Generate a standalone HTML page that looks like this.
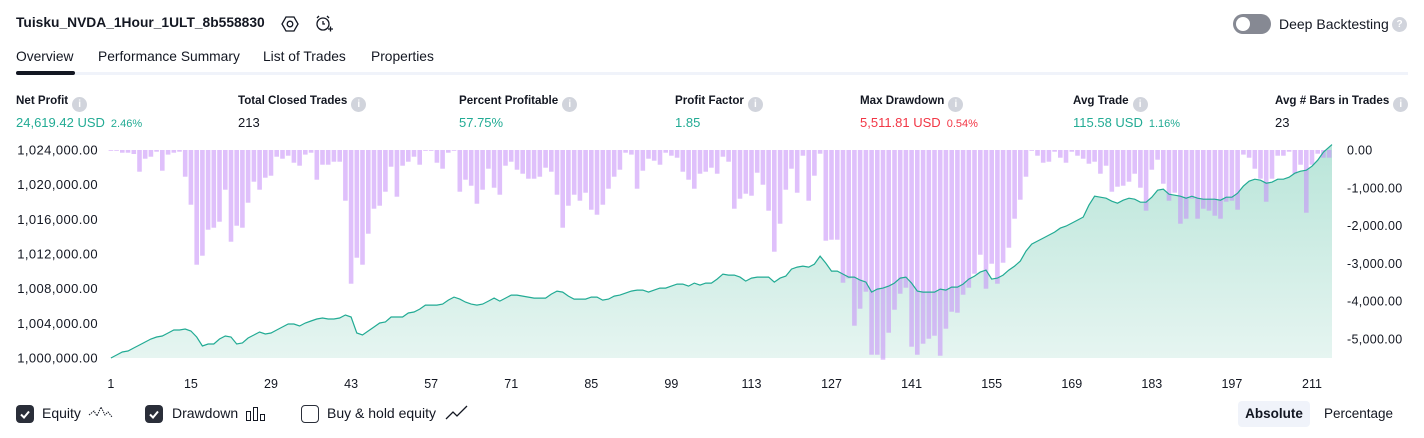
<!DOCTYPE html>
<html><head><meta charset="utf-8"><style>
*{margin:0;padding:0;box-sizing:border-box}
body{width:1424px;height:438px;background:#fff;font-family:"Liberation Sans",sans-serif;color:#131722;position:relative;overflow:hidden}
.a{position:absolute;white-space:nowrap}
.lbl{font-size:11.6px;font-weight:bold;color:#131722}
.val{font-size:13px}
.g{color:#22ab94}.r{color:#f23645}
.pct{font-size:11px;margin-left:6px}
.info{display:inline-block;width:15px;height:15px;border-radius:50%;background:#d1d4dc;color:#fff;font-size:10px;text-align:center;line-height:15px;vertical-align:-3px;margin-left:4px;font-weight:bold}
.tab{font-size:13.8px;top:49px;color:#131722}
.cb{width:18px;height:18px;border-radius:4px;top:405px}
.leg{font-size:14px;top:405px}
</style></head><body>
<div class="a" style="left:16px;top:15px;font-size:13.8px;font-weight:bold">Tuisku_NVDA_1Hour_1ULT_8b558830</div>
<svg class="a" style="left:281px;top:15px" width="18" height="18" viewBox="0 0 18 18"><polygon points="5,2 13,2 17,9 13,16 5,16 1,9" fill="none" stroke="#131722" stroke-width="1.3"/><circle cx="9" cy="9" r="2.8" fill="none" stroke="#131722" stroke-width="1.3"/></svg>
<svg class="a" style="left:314px;top:14px" width="20" height="20" viewBox="0 0 20 20"><circle cx="9" cy="10" r="6" fill="none" stroke="#131722" stroke-width="1.3"/><path d="M9 7v3h2M3 4l2-2M15 4l-2-2M14 15h5M16.5 12.5v5" stroke="#131722" stroke-width="1.3" fill="none"/></svg>
<div class="a" style="left:1233px;top:14px;width:38px;height:20px;border-radius:10px;background:#868993"><div style="position:absolute;left:3px;top:3px;width:14px;height:14px;border-radius:50%;background:#fff"></div></div>
<div class="a" style="left:1279px;top:16px;font-size:14px">Deep Backtesting</div>
<div class="a" style="left:1392px;top:17px;width:15px;height:15px;border-radius:50%;background:#d1d4dc;color:#fff;font-size:10px;text-align:center;line-height:15px;font-weight:bold">?</div>
<div class="a tab" style="left:16px">Overview</div>
<div class="a tab" style="left:98px">Performance Summary</div>
<div class="a tab" style="left:263px">List of Trades</div>
<div class="a tab" style="left:371px">Properties</div>
<div class="a" style="left:16px;top:72px;width:1392px;height:3px;background:#f0f3fa"></div>
<div class="a" style="left:16px;top:71px;width:59px;height:4px;border-radius:2px;background:#131722"></div>

<div class="a" style="left:16px;top:94px"><div class="lbl">Net Profit<span class="info">i</span></div><div class="val g" style="margin-top:3px">24,619.42 USD<span class="pct">2.46%</span></div></div>
<div class="a" style="left:238px;top:94px"><div class="lbl">Total Closed Trades<span class="info">i</span></div><div class="val" style="margin-top:3px">213</div></div>
<div class="a" style="left:459px;top:94px"><div class="lbl">Percent Profitable<span class="info">i</span></div><div class="val g" style="margin-top:3px">57.75%</div></div>
<div class="a" style="left:675px;top:94px"><div class="lbl">Profit Factor<span class="info">i</span></div><div class="val g" style="margin-top:3px">1.85</div></div>
<div class="a" style="left:860px;top:94px"><div class="lbl">Max Drawdown<span class="info">i</span></div><div class="val r" style="margin-top:3px">5,511.81 USD<span class="pct">0.54%</span></div></div>
<div class="a" style="left:1073px;top:94px"><div class="lbl">Avg Trade<span class="info">i</span></div><div class="val g" style="margin-top:3px">115.58 USD<span class="pct">1.16%</span></div></div>
<div class="a" style="left:1275px;top:94px"><div class="lbl">Avg # Bars in Trades<span class="info">i</span></div><div class="val" style="margin-top:3px">23</div></div>

<svg id="chart" class="a" style="left:0;top:0" width="1424" height="400"></svg>

<div class="a cb" style="left:16px;background:#2a2e39"><svg width="18" height="18"><path d="M5 9.5l3 3 5-6" stroke="#fff" stroke-width="2" fill="none"/></svg></div>
<div class="a leg" style="left:42px">Equity</div>
<svg class="a" style="left:88px;top:404px" width="26" height="18"><path d="M1 11l5-4 3 5 4-9 4 8 3-3 4 5" stroke="#131722" fill="none" stroke-dasharray="1.5 1"/></svg>
<div class="a cb" style="left:145px;background:#2a2e39"><svg width="18" height="18"><path d="M5 9.5l3 3 5-6" stroke="#fff" stroke-width="2" fill="none"/></svg></div>
<div class="a leg" style="left:172px">Drawdown</div>
<svg class="a" style="left:245px;top:404px" width="22" height="18"><rect x="1.5" y="7.5" width="4" height="9" fill="none" stroke="#131722"/><rect x="8.5" y="3.5" width="4" height="13" fill="none" stroke="#131722"/><rect x="15.5" y="10.5" width="4" height="6" fill="none" stroke="#131722"/></svg>
<div class="a cb" style="left:301px;border:1.5px solid #2a2e39"></div>
<div class="a leg" style="left:327px">Buy &amp; hold equity</div>
<svg class="a" style="left:445px;top:404px" width="24" height="18"><path d="M1 15l7-7 4 4 10-10" stroke="#131722" fill="none" stroke-width="1.3"/></svg>
<div class="a" style="left:1238px;top:401px;width:72px;height:26px;background:#f0f3fa;border-radius:4px;font-size:13.5px;font-weight:bold;text-align:center;line-height:26px">Absolute</div>
<div class="a" style="left:1324px;top:406px;font-size:13.5px">Percentage</div>

<script>
const equity=[0,346,692,807,1153,1499,1844,2190,2421,2536,2882,3228,3228,3343,3112,2421,1383,1614,1614,2190,2536,2421,1614,1729,2305,2651,2997,2767,2882,3228,3573,3919,3919,3689,4034,4265,4495,4611,4495,4495,4611,4957,4726,2882,2651,3112,3573,4034,4150,4726,4726,4726,5187,5302,5648,6109,6109,6109,6225,6686,7031,6801,6455,6225,6109,6225,6570,6916,6570,6916,7262,7262,7147,7031,6916,6916,6916,7377,7723,7608,7147,6801,6801,6801,7031,7031,6686,6801,7147,7262,7493,7723,7838,7838,7608,7838,8069,8069,8299,8530,8530,8299,8645,8415,8645,8645,9106,9683,9567,9567,9337,8876,9222,9337,9337,9337,8761,9222,9452,10259,10490,10605,10490,10835,11757,10951,10028,10028,9683,9337,9337,8991,8761,7608,7954,8069,8299,8645,9222,9337,8645,7723,7608,7608,7608,7954,7838,8184,8184,8530,9106,9452,9913,10144,9106,9222,9567,10144,10605,11181,12334,13141,13487,13832,14178,14524,14985,15216,15561,15907,16253,17636,18673,18558,18443,18097,17867,18213,18443,18328,17982,17982,18558,19365,19481,18904,18789,18673,18443,18673,18443,18328,18328,18328,18213,18558,18558,19020,19826,20403,20633,20518,20172,20288,20633,20633,20864,21325,21555,21671,22132,22823,23746,24619];
const drawdown=[18,18,71,71,106,573,229,176,44,547,123,71,44,706,1446,3034,2796,2108,2055,1896,1050,2426,2002,2055,1394,838,1050,732,679,176,229,150,335,415,123,71,785,388,388,309,309,1341,3537,2849,3034,2214,1552,1473,1103,441,1235,415,309,176,388,18,18,335,494,71,18,1103,785,944,1420,1050,494,997,1182,415,309,520,626,759,759,706,467,573,1182,2055,1473,1182,1341,1129,1579,1711,1446,1023,706,520,71,123,1023,547,229,282,388,71,150,203,573,785,1023,626,573,467,626,176,309,1552,1288,1155,1208,600,917,1605,2690,1949,1050,494,1129,150,1341,679,97,2399,2373,2373,3510,3396,4648,4198,3748,5415,5415,5548,4833,4225,3801,3643,5204,5415,5124,4992,4913,5442,4728,4278,4304,3828,3643,3272,2769,3669,3008,3537,2981,2584,1817,1314,706,18,150,335,309,44,203,335,44,150,229,362,309,626,415,1103,970,944,838,626,997,1605,520,256,891,1341,1129,1949,1817,1288,1817,1552,1605,1738,1817,1367,1341,1579,123,203,494,759,1367,759,150,150,44,626,388,1658,388,97,203,203];
const leftTicks=[0,4000,8000,12000,16000,20000,24000];
const rightTicks=[0,-1000,-2000,-3000,-4000,-5000];
const xTickLabels=[1,15,29,43,57,71,85,99,113,127,141,155,169,183,197,211];

const NS='http://www.w3.org/2000/svg';
const svg=document.getElementById('chart');
const X0=108,X1=1332,YT=150,YB=358;
const n=drawdown.length, step=(X1-X0)/n;
const xc=i=>X0+(i+0.5)*step;
const yEq=v=>YB-v*(YB-YT)/24000;
const yDd=v=>YT+v*37.8/1000;
function mk(tag,attrs){const e=document.createElementNS(NS,tag);for(const k in attrs)e.setAttribute(k,attrs[k]);svg.appendChild(e);return e;}

const defs=mk('defs',{});
defs.innerHTML='<linearGradient id="ag" x1="0" y1="0" x2="0" y2="1"><stop offset="0" stop-color="#b9e5d9"/><stop offset="1" stop-color="#e6f5f1"/></linearGradient>';

let pts=equity.map((v,i)=>[xc(i),yEq(v)]);
pts[pts.length-1][0]=X1;
let d='M'+X0+' '+YB+' L'+X0+' '+pts[0][1]+' '+pts.map(p=>'L'+p[0].toFixed(1)+' '+p[1].toFixed(1)).join(' ')+' L'+X1+' '+YB+' Z';
const area=mk('path',{d:d,fill:'url(#ag)'});



drawdown.forEach((v,i)=>{
  const r=mk('rect',{x:(xc(i)-step*0.4).toFixed(1),y:YT,width:(step*0.8).toFixed(1),height:Math.max(0.8,yDd(v)-YT).toFixed(1),fill:'#c48df7','fill-opacity':0.55});
  
  
});

const line=mk('path',{d:'M'+pts.map(p=>p[0].toFixed(1)+' '+p[1].toFixed(1)).join(' L'),fill:'none',stroke:'#22ab94','stroke-width':1.2});



leftTicks.forEach(v=>{
  const t=mk('text',{x:98,y:yEq(v)+4.5,'text-anchor':'end','font-size':13,'letter-spacing':0.4,fill:'#131722','font-family':'Liberation Sans, sans-serif'});
  t.textContent=(1000000+v).toLocaleString('en-US')+'.00';
  
  
});
rightTicks.forEach(v=>{
  const t=mk('text',{x:1347,y:yDd(-v)+4.5,'font-size':12.5,'letter-spacing':0.3,fill:'#131722','font-family':'Liberation Sans, sans-serif'});
  t.textContent=(v===0?'0.00':'-'+Math.abs(v).toLocaleString('en-US')+'.00');
  
  
});
xTickLabels.forEach(v=>{
  const t=mk('text',{x:xc(v-1),y:388,'text-anchor':'middle','font-size':12.5,fill:'#131722','font-family':'Liberation Sans, sans-serif'});
  t.textContent=v;
  
  
});
</script>
</body></html>
